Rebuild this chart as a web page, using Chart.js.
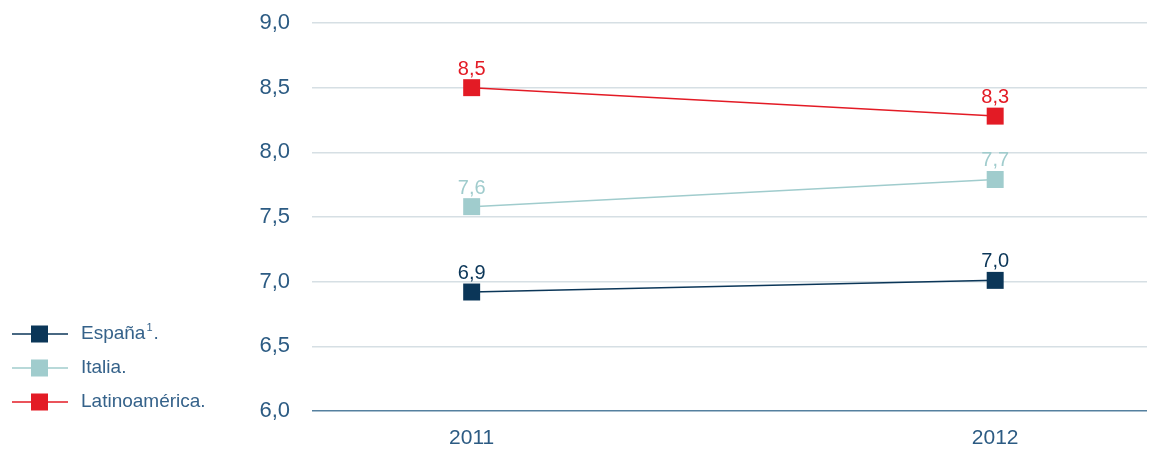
<!DOCTYPE html>
<html>
<head>
<meta charset="utf-8">
<script src="https://cdn.jsdelivr.net/npm/chart.js@4"></script>
<style>
  html, body { margin: 0; padding: 0; background: #fff; }
  #wrap { width: 1150px; height: 451px; position: relative; }
</style>
</head>
<body>
<div id="wrap"><canvas id="chart"></canvas></div>
<script>
// data
const years = [2011, 2012];
const espana = [6.92, 7.01];
const italia = [7.58, 7.79];
const latam = [8.50, 8.28];
const espanaLabels = ['6,9', '7,0'];
const italiaLabels = ['7,6', '7,7'];
const latamLabels = ['8,5', '8,3'];
const yTicks = [6.0, 6.5, 7.0, 7.5, 8.0, 8.5, 9.0];

const navy = '#0b3658';
const teal = '#a0cccd';
const red = '#e31b25';
const axisText = '#2c5b83';
const font = '"Liberation Sans", Arial, sans-serif';

const toPoints = (vals) => vals.map((v, i) => ({ x: years[i], y: v }));

// draws the rounded value above each marker
const valueLabels = {
    id: 'valueLabels',
    afterDatasetsDraw(chart) {
        const ctx = chart.ctx;
        ctx.save();
        ctx.font = '20px ' + font;
        ctx.textAlign = 'center';
        ctx.textBaseline = 'alphabetic';
        chart.data.datasets.forEach((ds, di) => {
            const meta = chart.getDatasetMeta(di);
            meta.data.forEach((pt, i) => {
                ctx.fillStyle = ds.borderColor;
                ctx.fillText(ds.valueLabels[i], pt.x, pt.y - 13);
            });
        });
        ctx.restore();
    }
};

// legend on the left, line + square like the original
const sideLegend = {
    id: 'sideLegend',
    afterDraw(chart) {
        const ctx = chart.ctx;
        ctx.save();
        ctx.font = '19px ' + font;
        ctx.textBaseline = 'middle';
        chart.data.datasets.forEach((ds, i) => {
            const y = 334 + i * 34;
            ctx.strokeStyle = ds.borderColor;
            ctx.lineWidth = 1.5;
            ctx.beginPath();
            ctx.moveTo(12, y);
            ctx.lineTo(68, y);
            ctx.stroke();
            ctx.fillStyle = ds.borderColor;
            ctx.fillRect(31, y - 8.5, 17, 17);
            ctx.fillStyle = '#35628a';
            ctx.fillText(ds.label, 81, y);
            if (ds.sup) {
                const w = ctx.measureText(ds.label).width;
                ctx.font = '11px ' + font;
                ctx.fillText(ds.sup, 81 + w + 1, y - 6);
                const w2 = ctx.measureText(ds.sup).width;
                ctx.font = '19px ' + font;
                ctx.fillText('.', 81 + w + w2 + 2, y);
            }
        });
        ctx.restore();
    }
};

new Chart(document.getElementById('chart'), {
    type: 'line',
    data: {
        datasets: [
            { label: 'España', sup: '1', data: toPoints(espana), valueLabels: espanaLabels,
              borderColor: navy, backgroundColor: navy },
            { label: 'Italia.', data: toPoints(italia), valueLabels: italiaLabels,
              borderColor: teal, backgroundColor: teal },
            { label: 'Latinoamérica.', data: toPoints(latam), valueLabels: latamLabels,
              borderColor: red, backgroundColor: red }
        ]
    },
    options: {
        responsive: true,
        maintainAspectRatio: false,
        animation: false,
        layout: { autoPadding: false, padding: { left: 0, right: 3, top: 23, bottom: 0 } },
        elements: {
            line: { borderWidth: 1.5, tension: 0 },
            point: { pointStyle: 'rect', radius: 12, hoverRadius: 12, borderWidth: 0 }
        },
        plugins: {
            legend: { display: false },
            tooltip: { enabled: false }
        },
        scales: {
            x: {
                type: 'linear',
                min: 2010.695,
                max: 2012.29,
                afterBuildTicks: (s) => { s.ticks = years.map(v => ({ value: v })); },
                afterFit: (s) => { s.height = 40; },
                grid: { display: false, drawTicks: false },
                border: { display: false },
                ticks: {
                    color: axisText,
                    font: { family: font, size: 21 },
                    padding: 15,
                    maxRotation: 0,
                    callback: (v) => String(v)
                }
            },
            y: {
                min: 6,
                max: 9,
                afterBuildTicks: (s) => { s.ticks = yTicks.map(v => ({ value: v })); },
                afterFit: (s) => { s.width = 312; s.paddingTop = 0; s.paddingBottom = 0; },
                grid: {
                    drawTicks: false,
                    lineWidth: 1.5,
                    color: (c) => c.tick && c.tick.value === 6 ? '#55809f' : '#d6dfe4'
                },
                border: { display: false },
                ticks: {
                    color: axisText,
                    font: { family: font, size: 22 },
                    padding: 22,
                    callback: (v) => v.toFixed(1).replace('.', ',')
                }
            }
        }
    },
    plugins: [valueLabels, sideLegend]
});
</script>
</body>
</html>
